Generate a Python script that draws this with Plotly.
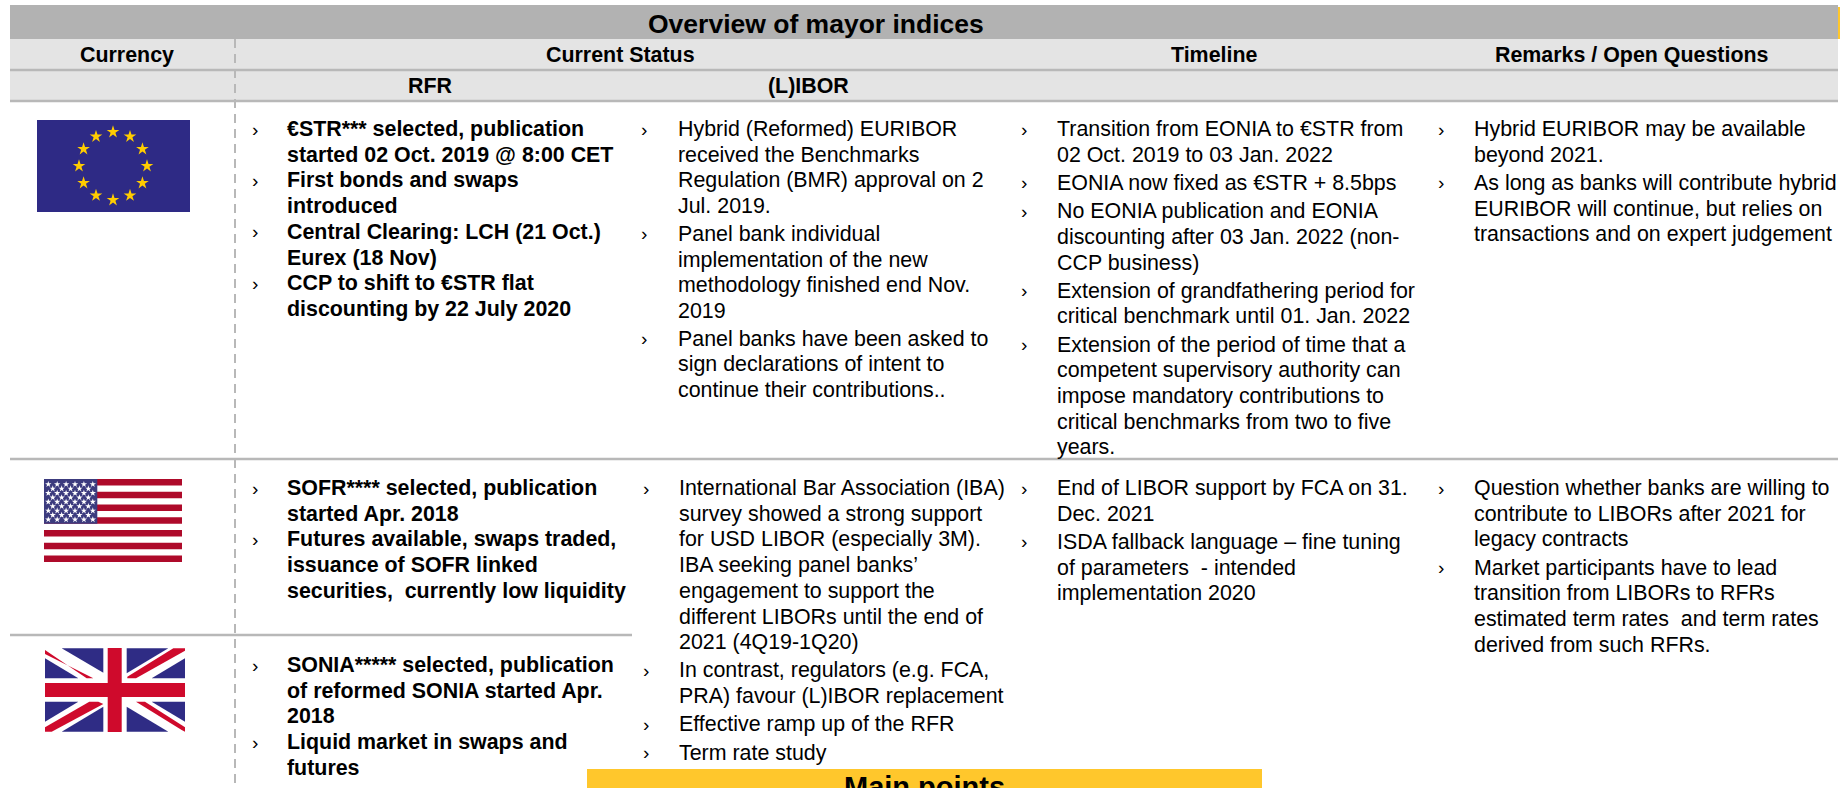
import plotly.graph_objects as go
import math

W, H = 1847, 788
FONT = "Liberation Sans"

title = "Overview of mayor indices"
header_row = [("Currency", 127), ("Current Status", 620), ("Timeline", 1214), ("Remarks / Open Questions", 1632)]
sub_row = [("RFR", 430), ("(L)IBOR", 808)]
main_points = "Main points"

eu_rfr = [["€STR*** selected, publication", "started 02 Oct. 2019 @ 8:00 CET"],
          ["First bonds and swaps", "introduced"],
          ["Central Clearing: LCH (21 Oct.)", "Eurex (18 Nov)"],
          ["CCP to shift to €STR flat", "discounting by 22 July 2020"]]
eu_ibor = [["Hybrid (Reformed) EURIBOR", "received the Benchmarks", "Regulation (BMR) approval on 2", "Jul. 2019."],
           ["Panel bank individual", "implementation of the new", "methodology finished end Nov.", "2019"],
           ["Panel banks have been asked to", "sign declarations of intent to", "continue their contributions.."]]
eu_time = [["Transition from EONIA to €STR from", "02 Oct. 2019 to 03 Jan. 2022"],
           ["EONIA now fixed as €STR + 8.5bps"],
           ["No EONIA publication and EONIA", "discounting after 03 Jan. 2022 (non-", "CCP business)"],
           ["Extension of grandfathering period for", "critical benchmark until 01. Jan. 2022"],
           ["Extension of the period of time that a", "competent supervisory authority can", "impose mandatory contributions to",
            "critical benchmarks from two to five", "years."]]
eu_rem = [["Hybrid EURIBOR may be available", "beyond 2021."],
          ["As long as banks will contribute hybrid", "EURIBOR will continue, but relies on", "transactions and on expert judgement"]]
us_rfr = [["SOFR**** selected, publication", "started Apr. 2018"],
          ["Futures available, swaps traded,", "issuance of SOFR linked", "securities,  currently low liquidity"]]
uk_rfr = [["SONIA***** selected, publication", "of reformed SONIA started Apr.", "2018"],
          ["Liquid market in swaps and", "futures"]]
us_ibor = [["International Bar Association (IBA)", "survey showed a strong support", "for USD LIBOR (especially 3M).",
            "IBA seeking panel banks’", "engagement to support the", "different LIBORs until the end of", "2021 (4Q19-1Q20)"],
           ["In contrast, regulators (e.g. FCA,", "PRA) favour (L)IBOR replacement"],
           ["Effective ramp up of the RFR"],
           ["Term rate study"]]
us_time = [["End of LIBOR support by FCA on 31.", "Dec. 2021"],
           ["ISDA fallback language – fine tuning", "of parameters  - intended", "implementation 2020"]]
us_rem = [["Question whether banks are willing to", "contribute to LIBORs after 2021 for", "legacy contracts"],
          ["Market participants have to lead", "transition from LIBORs to RFRs", "estimated term rates  and term rates",
           "derived from such RFRs."]]

# block, bullet x, text x, first-line y, paragraph gap, bold
blocks = [
    (eu_rfr, 251, 286, 129, 0, True),
    (eu_ibor, 640, 677, 129, 2, False),
    (eu_time, 1020, 1056, 129, 2.5, False),
    (eu_rem, 1437, 1473, 129, 2.5, False),
    (us_rfr, 251, 286, 488, 0, True),
    (uk_rfr, 251, 286, 665, 0, True),
    (us_ibor, 642, 678, 488, 2.5, False),
    (us_time, 1020, 1056, 488, 2.5, False),
    (us_rem, 1437, 1473, 488, 2.5, False),
]
PITCH = 25.7
GREY = "#b8b8b8"

shapes, ann = [], []

def rect(x0, y0, x1, y1, color):
    shapes.append(dict(type="rect", x0=x0, y0=y0, x1=x1, y1=y1, fillcolor=color, line=dict(width=0), layer="below"))

def hline(x0, x1, y, w=2.5):
    shapes.append(dict(type="line", x0=x0, x1=x1, y0=y, y1=y, line=dict(color=GREY, width=w), layer="below"))

def poly(points, color):
    d = "M" + " L".join(f"{x},{y}" for x, y in points) + " Z"
    shapes.append(dict(type="path", path=d, fillcolor=color, line=dict(width=0), layer="below"))

def text(s, x, y, size, bold=False, anchor="left"):
    ann.append(dict(text=f"<b>{s}</b>" if bold else s, x=x, y=y, xref="x", yref="y", showarrow=False,
                    xanchor=anchor, yanchor="middle", align=anchor, borderpad=0,
                    font=dict(family=FONT, size=size, color="#000000")))

# header bands
rect(10, 5, 1838, 39, "#b2b2b2")
rect(10, 39, 1838, 70, "#e4e4e4")
rect(10, 70, 1838, 101, "#e4e4e4")
hline(10, 1838, 70)
hline(10, 1838, 101)
shapes.append(dict(type="line", x0=1839, x1=1839, y0=7, y1=39, line=dict(color="#ffc72c", width=2), layer="below"))
shapes.append(dict(type="line", x0=235, x1=235, y0=39, y1=788, line=dict(color=GREY, width=2, dash="9px,6px"), layer="below"))
hline(10, 1838, 459)
hline(10, 632, 635)
rect(587, 769, 1262, 788, "#ffc72c")

text(title, 816, 24, 26.5, True, "center")
for s, x in header_row:
    text(s, x, 55, 21.4, True, "center")
for s, x in sub_row:
    text(s, x, 86, 21.4, True, "center")
text(main_points, 924, 787, 29, True, "center")

for paras, bx, tx, y0, gap, bold in blocks:
    y = y0
    for para in paras:
        text("›", bx, y, 19, False)
        for line in para:
            text(line, tx, y, 21.4, bold)
            y += PITCH
        y += gap

# EU flag
EU = (37, 120, 190, 212)
rect(EU[0], EU[1], EU[2], EU[3], "#2e2a85")
eu_cx, eu_cy, eu_r = 113, 166, 34
eu_x = [eu_cx + eu_r * math.sin(math.radians(30 * i)) for i in range(12)]
eu_y = [eu_cy - eu_r * math.cos(math.radians(30 * i)) for i in range(12)]

# US flag
US = (44, 479, 182, 562)
rect(US[0], US[1], US[2], US[3], "#ffffff")
sh = (US[3] - US[1]) / 13
for i in range(0, 13, 2):
    rect(US[0], US[1] + i * sh, US[2], US[1] + (i + 1) * sh, "#ae0a2a")
rect(US[0], US[1], 97.3, US[1] + 7 * sh, "#3c3b7e")
us_x, us_y = [], []
for r in range(9):
    n = 6 if r % 2 == 0 else 5
    for c in range(n):
        us_x.append(48.3 + 8.9 * c + (4.45 if r % 2 else 0))
        us_y.append(484.3 + 4.4 * r)

# UK flag: outlines read in tenths of a third of a pixel from the flag's own corner
x0, y0, x1, y1 = 45, 648, 185, 732
rect(x0, y0, x1, y1, "#ffffff")
def uk(points):
    return [(30 + px / 3, 640 + py / 3) for px, py in points]
BLUE, RED = "#2f2c85", "#cf0a2c"
uk_blue = [[(95, 25), (220, 25), (220, 98)], [(45, 55), (45, 115), (145, 115)],
           [(290, 25), (415, 25), (290, 100)], [(465, 55), (465, 115), (365, 115)],
           [(45, 185), (145, 185), (45, 245)], [(95, 275), (220, 275), (220, 200)],
           [(365, 185), (465, 185), (465, 245)], [(290, 200), (290, 275), (415, 275)]]
uk_red = [[(45, 30), (170, 115), (190, 115), (45, 42)],
          [(465, 25), (430, 25), (292, 110), (292, 115), (318, 115), (465, 32)],
          [(45, 262), (45, 275), (65, 275), (220, 192), (205, 185), (178, 185)],
          [(465, 262), (465, 275), (455, 270), (318, 185), (345, 185)]]
for p in uk_blue:
    poly(uk(p), BLUE)
for p in uk_red:
    poly(uk(p), RED)
rect(107.7, y0, 121.7, y1, RED)
rect(x0, 683, x1, 697, RED)

fig = go.Figure()
fig.add_trace(go.Scatter(x=eu_x, y=eu_y, mode="markers", hoverinfo="skip",
                         marker=dict(symbol="star", size=9.5, color="#ffcc00", line=dict(width=0))))
fig.add_trace(go.Scatter(x=us_x, y=us_y, mode="markers", hoverinfo="skip",
                         marker=dict(symbol="star", size=4.8, color="#ffffff", line=dict(width=0))))
fig.update_layout(width=W, height=H, margin=dict(l=0, r=0, t=0, b=0), showlegend=False,
                  paper_bgcolor="#ffffff", plot_bgcolor="#ffffff",
                  xaxis=dict(range=[0, W], visible=False, fixedrange=True),
                  yaxis=dict(range=[H, 0], visible=False, fixedrange=True),
                  shapes=shapes, annotations=ann)
fig.write_html("out.html", config={"displayModeBar": False},
               post_script="document.body.style.margin='0';document.body.style.overflow='hidden';")
